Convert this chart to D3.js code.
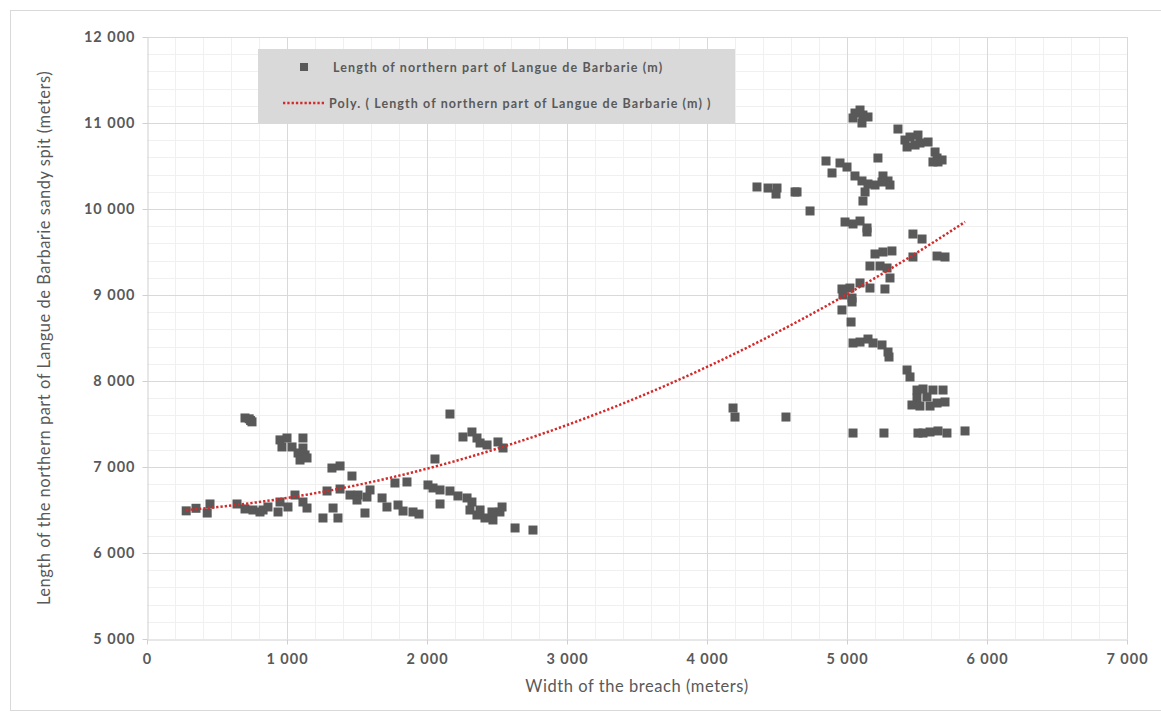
<!DOCTYPE html>
<html>
<head>
<meta charset="utf-8">
<script src="https://cdn.jsdelivr.net/npm/d3@7"></script>
<style>
  body { margin: 0; background: #fff; }
  svg { font-family: Lato, "Open Sans", sans-serif; }
</style>
</head>
<body>
<div id="chart"></div>
<script>
const width = 1161;
const height = 723;
const margin = { top: 37, right: 34, bottom: 84, left: 147 };

// breach width (m) / spit length (m)
const breachWidth = [
  280, 350, 450, 430, 730, 700, 750, 740, 950, 1000, 1114, 964, 1036, 1114, 1079, 1129,
  1093, 1143, 1321, 1379, 1464, 1286, 1379, 1450, 1507, 1500, 1571, 1257, 1329, 1364,
  1557, 643, 700, 757, 807, 829, 864, 950, 936, 1007, 1057, 1114, 1143,
  2164, 2257, 2321, 2357, 2379, 2429, 2507, 2543, 2057, 1771, 1857, 1593, 1679, 1714,
  1793, 1829, 1900, 1943, 2007, 2043, 2093, 2164, 2221, 2286, 2321, 2093, 2307, 2357,
  2414, 2471, 2521, 2536, 2464, 2379, 2629, 2757,
  5057, 5114, 5093, 5043, 5107, 5150, 5364, 5414, 5450, 5507, 5521, 5579, 5429, 5486,
  5629, 5643, 5650, 5614, 5679, 5221, 4850, 4950, 5000, 4893, 5057, 5107, 5150, 5200,
  5257, 5293, 5307, 5250, 5129, 5114, 4629, 4736, 4986, 5043, 5093, 5143, 5143, 5471,
  5536, 5200, 5257, 5321, 5643, 5700, 5471, 5164, 5236, 5286, 5307, 4964, 5021, 5093,
  5164, 5271, 4971, 5036, 5036, 4964, 5029, 5043, 5093, 5150, 5186, 5250, 5293, 5300,
  5429, 5450, 5500, 5543, 5614, 5686, 5500, 5571, 5464, 5521, 5593, 5643, 5700,
  4186, 4200, 4564, 5043, 5264, 5507, 5543, 5593, 5650, 5714, 5843,
  4357, 4436, 4493, 4500, 4643
];
const spitLength = [
  6490, 6520, 6570, 6465, 7560, 7570, 7525, 7540, 7315, 7337, 7337, 7233, 7233, 7221, 7163, 7140,
  7081, 7105, 6988, 7012, 6895, 6721, 6744, 6674, 6674, 6616, 6651, 6407, 6523, 6407,
  6465, 6570, 6512, 6500, 6477, 6500, 6535, 6593, 6477, 6535, 6674, 6593, 6523,
  7616, 7349, 7407, 7337, 7279, 7256, 7291, 7221, 7093, 6814, 6826, 6733, 6640, 6535,
  6558, 6488, 6477, 6453, 6791, 6756, 6733, 6721, 6663, 6640, 6593, 6570, 6500, 6442,
  6407, 6384, 6477, 6535, 6477, 6500, 6291, 6267,
  11116, 11093, 11151, 11058, 11000, 11070, 10930, 10802, 10837, 10860, 10767, 10779, 10721, 10744,
  10663, 10593, 10547, 10547, 10570, 10593, 10558, 10535, 10488, 10419, 10384, 10326, 10291, 10279,
  10384, 10326, 10279, 10314, 10198, 10093, 10198, 9977, 9849, 9826, 9860, 9779, 9733, 9709,
  9651, 9477, 9500, 9512, 9453, 9442, 9442, 9337, 9337, 9314, 9198, 9070, 9081, 9140,
  9081, 9070, 9000, 8965, 8919, 8826, 8686, 8442, 8453, 8488, 8442, 8419, 8337, 8279,
  8128, 8047, 7895, 7907, 7895, 7895, 7802, 7814, 7721, 7709, 7709, 7744, 7756,
  7686, 7581, 7581, 7395, 7395, 7395, 7395, 7407, 7419, 7395, 7419,
  10256, 10244, 10174, 10244, 10198
];

// order-2 trendline coefficients (per km of breach width)
const trendCoef = [6469, 87.5, 84.06];

const xTicks = [0, 1000, 2000, 3000, 4000, 5000, 6000, 7000];
const yTicks = [5000, 6000, 7000, 8000, 9000, 10000, 11000, 12000];
const seriesName = "Length of northern part of Langue de Barbarie (m)";
const trendName = "Poly. ( Length of northern part of Langue de Barbarie (m) )";

const points = breachWidth.map((w, i) => ({ x: w, y: spitLength[i] }));

const fmt = v => d3.format(",")(v).replace(/,/g, " ");
const grey = "#595959";
const red = "#d42a2a";

const svg = d3.select("#chart").append("svg")
  .attr("width", width)
  .attr("height", height);

// outer chart border
svg.append("rect")
  .attr("x", 10.5).attr("y", 10.5)
  .attr("width", width - 10).attr("height", 700)
  .attr("fill", "#fff")
  .attr("stroke", "#d9d9d9");

const x = d3.scaleLinear().domain([0, 7000]).range([margin.left, width - margin.right]);
const y = d3.scaleLinear().domain([5000, 12000]).range([height - margin.bottom, margin.top]);

const grid = svg.append("g");

// minor grid every 200
grid.selectAll(".vminor")
  .data(d3.range(200, 7000, 200).filter(v => v % 1000))
  .join("line")
  .attr("x1", d => Math.round(x(d)) + 0.5).attr("x2", d => Math.round(x(d)) + 0.5)
  .attr("y1", y(5000)).attr("y2", y(12000))
  .attr("stroke", "#f0f0f0");

grid.selectAll(".hminor")
  .data(d3.range(5200, 12000, 200).filter(v => v % 1000))
  .join("line")
  .attr("y1", d => Math.round(y(d)) + 0.5).attr("y2", d => Math.round(y(d)) + 0.5)
  .attr("x1", x(0)).attr("x2", x(7000))
  .attr("stroke", "#f0f0f0");

// major grid
grid.selectAll(".vmajor")
  .data(xTicks.slice(1))
  .join("line")
  .attr("x1", d => Math.round(x(d)) + 0.5).attr("x2", d => Math.round(x(d)) + 0.5)
  .attr("y1", y(5000)).attr("y2", y(12000))
  .attr("stroke", "#d9d9d9");

grid.selectAll(".hmajor")
  .data(yTicks.slice(1))
  .join("line")
  .attr("y1", d => Math.round(y(d)) + 0.5).attr("y2", d => Math.round(y(d)) + 0.5)
  .attr("x1", x(0)).attr("x2", x(7000))
  .attr("stroke", "#d9d9d9");

// axes
const xAxis = svg.append("g")
  .attr("transform", `translate(0,${Math.round(y(5000)) + 0.5})`)
  .call(d3.axisBottom(x).tickValues(xTicks).tickFormat(fmt).tickSizeInner(5).tickSizeOuter(0).tickPadding(9));

const yAxis = svg.append("g")
  .attr("transform", `translate(${Math.round(x(0)) + 0.5},0)`)
  .call(d3.axisLeft(y).tickValues(yTicks).tickFormat(fmt).tickSizeInner(5).tickSizeOuter(0).tickPadding(7));

[xAxis, yAxis].forEach(a => {
  a.select(".domain").attr("stroke", "#d0d0d0");
  a.selectAll(".tick line").attr("stroke", "#d0d0d0");
  a.selectAll(".tick text")
    .attr("fill", grey)
    .attr("font-size", 14.5)
    .attr("font-weight", "bold")
    .attr("letter-spacing", 1)
    .attr("font-family", "Lato, sans-serif");
});

// axis titles
svg.append("text")
  .attr("x", (x(0) + x(7000)) / 2)
  .attr("y", 692)
  .attr("text-anchor", "middle")
  .attr("fill", grey)
  .attr("font-size", 16.5)
  .attr("letter-spacing", 0.55)
  .text("Width of the breach (meters)");

svg.append("text")
  .attr("transform", `translate(50,${(y(5000) + y(12000)) / 2}) rotate(-90)`)
  .attr("text-anchor", "middle")
  .attr("fill", grey)
  .attr("font-size", 16.5)
  .attr("letter-spacing", 0.5)
  .text("Length of the northern part of Langue de Barbarie sandy spit (meters)");

// polynomial trendline over the span of the data
const trend = xv => { const k = xv / 1000; return trendCoef[0] + trendCoef[1] * k + trendCoef[2] * k * k; };
const [xMin, xMax] = d3.extent(breachWidth);
const trendPts = d3.range(0, 101).map(i => xMin + (xMax - xMin) * i / 100);

// markers
svg.append("g")
  .selectAll("rect")
  .data(points)
  .join("rect")
  .attr("x", d => x(d.x) - 4.5)
  .attr("y", d => y(d.y) - 4.5)
  .attr("width", 9)
  .attr("height", 9)
  .attr("fill", grey);

svg.append("path")
  .datum(trendPts)
  .attr("d", d3.line().x(d => x(d)).y(d => y(trend(d))))
  .attr("fill", "none")
  .attr("stroke", red)
  .attr("stroke-width", 2.5)
  .attr("stroke-dasharray", "2.3,2");

// legend
const legend = svg.append("g");
legend.append("rect")
  .attr("x", 258).attr("y", 49)
  .attr("width", 477).attr("height", 74)
  .attr("fill", "#d9d9d9");

legend.append("rect")
  .attr("x", 300).attr("y", 63)
  .attr("width", 8).attr("height", 8)
  .attr("fill", grey);

legend.append("text")
  .attr("x", 333).attr("y", 71.5)
  .attr("fill", grey)
  .attr("font-size", 12.5)
  .attr("font-weight", "bold")
  .attr("letter-spacing", 1.13)
  .text(seriesName);

legend.append("line")
  .attr("x1", 283).attr("x2", 325)
  .attr("y1", 103).attr("y2", 103)
  .attr("stroke", red)
  .attr("stroke-width", 2.5)
  .attr("stroke-dasharray", "2.3,2");

legend.append("text")
  .attr("x", 329).attr("y", 107.5)
  .attr("fill", grey)
  .attr("font-size", 12.5)
  .attr("font-weight", "bold")
  .attr("letter-spacing", 1.1)
  .text(trendName);
</script>
</body>
</html>
